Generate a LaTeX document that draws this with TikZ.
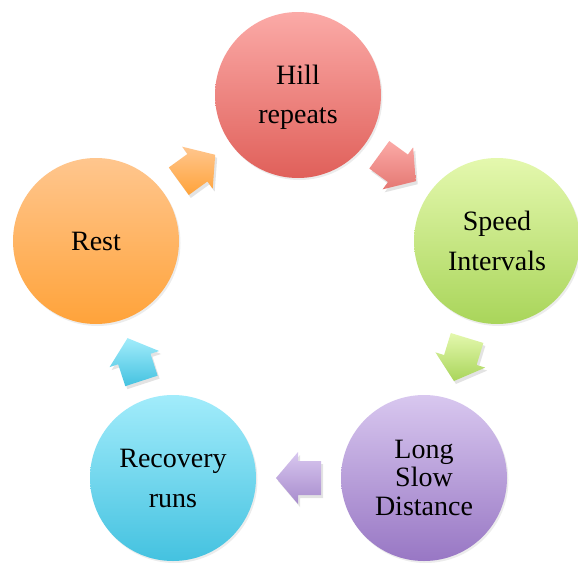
\documentclass[tikz,border=0pt]{standalone}
\usepackage{fontspec}
\setmainfont{Liberation Serif}
\usetikzlibrary{shadows,calc}
\definecolor{hillT}{HTML}{FBAAA7}
\definecolor{hillB}{HTML}{E0605A}
\definecolor{spdT}{HTML}{E4F8AE}
\definecolor{spdB}{HTML}{A9D55A}
\definecolor{lsdT}{HTML}{D8C7EF}
\definecolor{lsdB}{HTML}{9877C4}
\definecolor{recT}{HTML}{A2ECFB}
\definecolor{recB}{HTML}{44C2E0}
\definecolor{rstT}{HTML}{FFC68E}
\definecolor{rstB}{HTML}{FFA33A}
\begin{document}
\begin{tikzpicture}[x=1pt,y=-1pt,
  stage/.style={circle, minimum size=166pt, inner sep=0pt,
    drop shadow={opacity=0.15, shadow xshift=1.5pt, shadow yshift=-2pt}},
  lbl/.style={font=\fontsize{28}{32}\selectfont, anchor=base, inner sep=0pt},
  cyc/.style={drop shadow={opacity=0.22, shadow xshift=2pt, shadow yshift=-3pt}},
]
\useasboundingbox (0,0) rectangle (578,562);

\node[stage, top color=hillT, bottom color=hillB] (hill) at (298,95) {};
\node[stage, top color=spdT, bottom color=spdB] (speed) at (497,241) {};
\node[stage, top color=lsdT, bottom color=lsdB] (lsd) at (424,478) {};
\node[stage, top color=recT, bottom color=recB] (rec) at (173,478) {};
\node[stage, top color=rstT, bottom color=rstB] (rest) at (96,241) {};

\node[lbl] (hill1) at ($(hill)+(0,-11)$) {Hill};
\node[lbl] (hill2) at ($(hill)+(0,28)$) {repeats};
\node[lbl] (speed1) at ($(speed)+(0,-11)$) {Speed};
\node[lbl] (speed2) at ($(speed)+(0,29)$) {Intervals};
\node[lbl] (lsd1) at ($(lsd)+(0,-20)$) {Long};
\node[lbl] (lsd2) at ($(lsd)+(0,8)$) {Slow};
\node[lbl] (lsd3) at ($(lsd)+(0,37)$) {Distance};
\node[lbl] (rec1) at ($(rec)+(0,-11)$) {Recovery};
\node[lbl] (rec2) at ($(rec)+(0,29)$) {runs};
\node[lbl] (rest1) at ($(rest)+(0,9)$) {Rest};

\def\blockarrow{(-22.5,-17) -- (0.5,-17) -- (0.5,-26) -- (22.5,0) -- (0.5,26) -- (0.5,17) -- (-22.5,17) -- cycle}
\path[cyc, top color=hillT, bottom color=hillB!85!white, shift={($(hill)!0.5!(speed)$)}, rotate=-36] \blockarrow;
\path[cyc, top color=spdT, bottom color=spdB, shift={($(speed)!0.5!(lsd)$)}, rotate=-107] \blockarrow;
\path[cyc, top color=lsdT, bottom color=lsdB!85!white, shift={($(lsd)!0.5!(rec)$)}, rotate=180] \blockarrow;
\path[cyc, top color=recT, bottom color=recB, shift={($(rec)!0.5!(rest)$)}, rotate=108] \blockarrow;
\path[cyc, top color=rstT, bottom color=rstB, shift={($(rest)!0.5!(hill)$)}, rotate=36] \blockarrow;
\end{tikzpicture}
\end{document}
